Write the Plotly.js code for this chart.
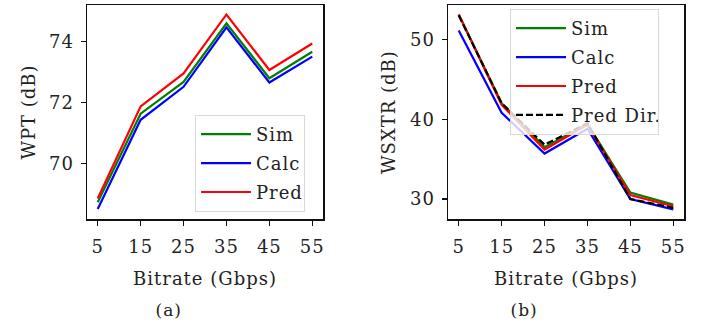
<!DOCTYPE html>
<html>
<head>
<meta charset="utf-8">
<script src="https://cdn.plot.ly/plotly-3.0.1.min.js"></script>
<style>html,body{margin:0;padding:0;background:#fff;}#chart{width:704px;height:329px;}
#chart text{letter-spacing:1px;}</style>
</head>
<body>
<div id="chart"></div>
<script>
// Data
const bitrate = [5, 15, 25, 35, 45, 55];
const tickLabels = ["5", "15", "25", "35", "45", "55"];
// (a) WPT (dB)
const wptSim  = [68.73, 71.63, 72.67, 74.59, 72.79, 73.66];
const wptCalc = [68.51, 71.43, 72.51, 74.46, 72.65, 73.50];
const wptPred = [68.85, 71.87, 72.95, 74.88, 73.06, 73.93];
// (b) WSXTR (dB)
const xtSim     = [53.1, 42.0, 36.5, 39.4, 30.8, 29.3];
const xtCalc    = [51.1, 40.8, 35.7, 38.8, 30.0, 28.7];
const xtPred    = [53.1, 41.8, 36.2, 39.3, 30.5, 29.1];
const xtPredDir = [53.0, 42.0, 36.8, 39.5, 30.0, 28.9];

const FONT = "DejaVu Serif";
const FS = 18;
const TXT = "#222";
const green = "#008000", blue = "#0000ff", red = "#ff0000";

function tr(y, name, color, xa, ya, leg, dash) {
  return {x: bitrate, y: y, name: name, type: "scatter", mode: "lines",
    line: {color: color, width: 2.2, dash: dash || "solid"},
    xaxis: xa, yaxis: ya, legend: leg, legendgroup: leg + name};
}

const data = [
  tr(wptSim, "Sim", green, "x", "y", "legend"),
  tr(wptCalc, "Calc", blue, "x", "y", "legend"),
  tr(wptPred, "Pred", red, "x", "y", "legend"),
  tr(xtSim, "Sim", green, "x2", "y2", "legend2"),
  tr(xtCalc, "Calc", blue, "x2", "y2", "legend2"),
  tr(xtPred, "Pred", red, "x2", "y2", "legend2"),
  tr(xtPredDir, "Pred Dir.", "#000000", "x2", "y2", "legend2", "7px,3px")
];

const axBase = {showgrid: false, zeroline: false, showline: true, mirror: true,
  linecolor: "#111", linewidth: 1.5, ticks: "outside", ticklen: 5, tickwidth: 1.2,
  tickcolor: "#111", tickfont: {family: FONT, size: FS, color: TXT}};

const yTop = (329 - 5) / 329, yBot = (329 - 219) / 329;

const legBase = {bgcolor: "rgba(255,255,255,0.8)", bordercolor: "#d9d9d9", borderwidth: 1,
  font: {family: FONT, size: FS, color: TXT}, tracegroupgap: 2.5, traceorder: "grouped",
  itemwidth: 50, xanchor: "left", yanchor: "top"};

const tfont = {family: FONT, size: FS, color: TXT};

const layout = {
  width: 704, height: 329,
  margin: {l: 0, r: 0, t: 0, b: 0},
  paper_bgcolor: "#fff", plot_bgcolor: "#fff",
  showlegend: true,
  xaxis: Object.assign({}, axBase, {domain: [87/704, 323/704], range: [2.5, 57.5],
    tickvals: bitrate, ticktext: tickLabels, anchor: "y", ticklabelstandoff: 6,
    title: {text: "Bitrate (Gbps)", font: tfont, standoff: 16}}),
  yaxis: Object.assign({}, axBase, {domain: [yBot, yTop], range: [68.18, 75.19],
    tickvals: [70, 72, 74], anchor: "x", ticklabelstandoff: 3,
    title: {text: "WPT (dB)", font: tfont, standoff: 10}}),
  xaxis2: Object.assign({}, axBase, {domain: [448/704, 684/704], range: [2.5, 57.5],
    tickvals: bitrate, ticktext: tickLabels, anchor: "y2", ticklabelstandoff: 6,
    title: {text: "Bitrate (Gbps)", font: tfont, standoff: 16}}),
  yaxis2: Object.assign({}, axBase, {domain: [yBot, yTop], range: [27.5, 54.3],
    tickvals: [30, 40, 50], anchor: "x2", ticklabelstandoff: 3,
    title: {text: "WSXTR (dB)", font: tfont, standoff: 11}}),
  legend: Object.assign({}, legBase, {x: 195/704, y: (329 - 115)/329}),
  legend2: Object.assign({}, legBase, {x: 510/704, y: (329 - 9)/329}),
  annotations: [
    {text: "(a)", xref: "paper", yref: "paper", x: 168/704, y: (329-310)/329, showarrow: false,
     font: {family: FONT, size: 17, color: TXT}, xanchor: "center", yanchor: "middle"},
    {text: "(b)", xref: "paper", yref: "paper", x: 524/704, y: (329-310)/329, showarrow: false,
     font: {family: FONT, size: 17, color: TXT}, xanchor: "center", yanchor: "middle"}
  ]
};

Plotly.newPlot("chart", data, layout, {staticPlot: true, displayModeBar: false});
</script>
</body>
</html>
